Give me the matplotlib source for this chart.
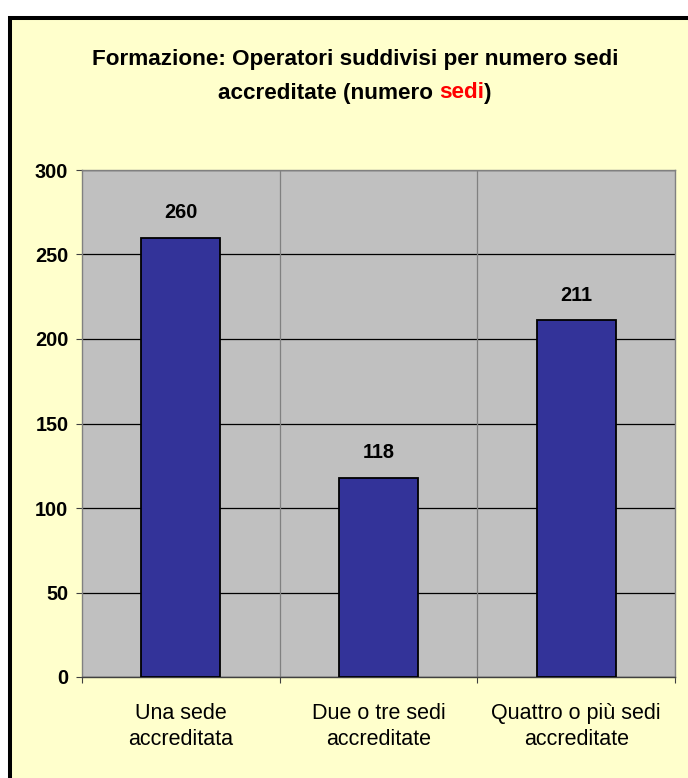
import matplotlib
matplotlib.use('Agg')
import matplotlib.pyplot as plt
from matplotlib.patches import Rectangle

# data
categories = ['Una sede\naccreditata', 'Due o tre sedi\naccreditate',
              'Quattro o più sedi\naccreditate']
values = [260, 118, 211]
yticks = [0, 50, 100, 150, 200, 250, 300]

title_line1 = 'Formazione: Operatori suddivisi per numero sedi'
title_line2 = ['accreditate (numero ', 'sedi', ')']
title_colors = ['black', 'red', 'black']

plt.rcParams['font.family'] = ['Liberation Sans', 'DejaVu Sans']

W, H = 688, 778
fig = plt.figure(figsize=(W / 100, H / 100), dpi=100, facecolor='white')

# yellow chart area with a thick black frame (cut off at right / bottom)
top = 1 - 18 / H
frame = Rectangle((10 / W, -0.1), 1.2, top + 0.1, transform=fig.transFigure,
                  facecolor='#FFFFCC', edgecolor='black', linewidth=2.9, zorder=-5)
fig.patches.append(frame)

ax = fig.add_axes([82 / W, 1 - 677 / H, (675 - 82) / W, (677 - 170) / H])
ax.set_zorder(2)
ax.set_facecolor('#C0C0C0')

x = list(range(len(values)))
ax.bar(x, values, width=0.4, color='#333399', edgecolor='black',
       linewidth=1.3, zorder=3)
ax.set_xlim(-0.5, len(values) - 0.5)
ax.set_ylim(0, 300)
ax.set_yticks(yticks)
ax.set_yticklabels([str(v) for v in yticks], fontsize=14.3, fontweight='bold')
ax.yaxis.grid(True, color='black', linewidth=0.9, zorder=1)
ax.set_axisbelow(True)
for b in [0.5, 1.5]:
    ax.axvline(b, color='#808080', linewidth=0.9, zorder=1)

# boundary ticks (no labels) + category labels on minor ticks
ax.set_xticks([-0.5, 0.5, 1.5, 2.5])
ax.set_xticklabels([])
ax.set_xticks(x, minor=True)
ax.set_xticklabels(categories, minor=True, fontsize=15.5, linespacing=1.3)
ax.tick_params(axis='x', which='major', length=4.3, color='#404040')
ax.tick_params(axis='x', which='minor', length=0, pad=19)
ax.tick_params(axis='y', length=4.3, pad=5.5, color='#404040')

for s in ax.spines.values():
    s.set_color('#808080')
    s.set_linewidth(1)
ax.spines['bottom'].set_color('#404040')

for xi, v in zip(x, values):
    ax.annotate(str(v), (xi, v), xytext=(0, 18), textcoords='offset points',
                ha='center', va='center', fontsize=14.3, fontweight='bold')

# title, second line has the word "sedi" in red
cx = 355 / W
fig.text(cx, 1 - 60 / H, title_line1, ha='center', va='center',
         fontsize=16.2, fontweight='bold')
parts = [fig.text(0, 1 - 93 / H, s, color=c, ha='left', va='center',
                  fontsize=16.2, fontweight='bold')
         for s, c in zip(title_line2, title_colors)]
fig.canvas.draw()
r = fig.canvas.get_renderer()
widths = [t.get_window_extent(r).width for t in parts]
xpos = cx * W - sum(widths) / 2
for t, w in zip(parts, widths):
    t.set_x(xpos / W)
    xpos += w

fig.savefig('out.png', dpi=100)
